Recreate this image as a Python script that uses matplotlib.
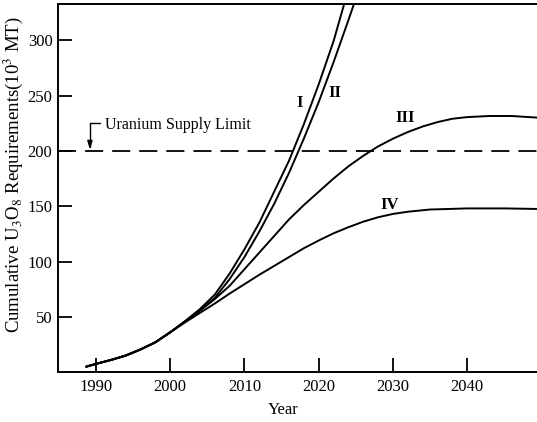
import matplotlib
matplotlib.use("Agg")
import matplotlib.pyplot as plt

plt.rcParams['font.family'] = ['Liberation Serif', 'DejaVu Serif']
plt.rcParams['mathtext.fontset'] = 'stix'

# ---- data ----
years_start = [1988.7, 1990, 1992, 1994, 1996, 1998]
vals_start = [5, 7.5, 11, 15, 20.5, 27]

years_I = years_start + [2000, 2002, 2004, 2006, 2008, 2010, 2012, 2014, 2016, 2018, 2020, 2022, 2024]
vals_I = vals_start + [36, 46, 57, 70, 89, 111, 135, 163, 191, 224, 260, 299, 346]

years_II = years_start + [2000, 2002, 2004, 2006, 2008, 2010, 2012, 2014, 2016, 2018, 2020, 2022, 2024, 2026]
vals_II = vals_start + [36, 46, 56, 67, 84, 104, 127, 152, 180, 211, 244, 280, 318, 357]

years_III = years_start + [2000, 2002, 2004, 2006, 2008, 2010, 2012, 2014, 2016, 2018, 2020, 2022, 2024,
                           2026, 2028, 2030, 2032, 2034, 2036, 2038, 2040, 2043, 2046, 2049.5]
vals_III = vals_start + [36, 45.5, 55.5, 66, 78, 93, 108, 123, 138, 151, 163, 175, 186,
                         195.5, 204, 211, 217, 222, 226, 229, 230.5, 231.5, 231.5, 230]

years_IV = years_start + [2000, 2002, 2004, 2006, 2008, 2010, 2012, 2014, 2016, 2018, 2020, 2022, 2024,
                          2026, 2028, 2030, 2032, 2035, 2040, 2045, 2049.5]
vals_IV = vals_start + [36, 45, 53.5, 62, 71, 79.5, 88, 96, 104, 112, 119, 125.5, 131,
                        136, 140, 143, 145, 147, 148, 148, 147.5]

supply_limit = 200
curve_labels = ['I', 'II', 'III', 'IV']
label_pos = [(2017.5, 243), (2022.2, 252), (2031.6, 230), (2029.5, 151)]

xticks = [1990, 2000, 2010, 2020, 2030, 2040]
yticks = [50, 100, 150, 200, 250, 300]

fig = plt.figure(figsize=(5.37, 4.22), dpi=100)
ax = fig.add_axes([0.108, 0.118, 0.892, 0.872])

for xs, ys in [(years_I, vals_I), (years_II, vals_II), (years_III, vals_III), (years_IV, vals_IV)]:
    ax.plot(xs, ys, color='black', lw=1.4, solid_capstyle='round', solid_joinstyle='round')

ax.axhline(supply_limit, color='black', lw=1.3, dashes=(10, 5))

for lab, (x, y) in zip(curve_labels, label_pos):
    ax.text(x, y, lab, fontsize=12, ha='center', va='center', fontweight='bold')

ax.text(1991.2, 223, 'Uranium Supply Limit', fontsize=11.5, ha='left', va='center')
ax.annotate('', xy=(1989.2, 201), xytext=(1990.6, 225),
            arrowprops=dict(arrowstyle='-|>,head_length=0.5,head_width=0.15',
                            connectionstyle='angle,angleA=0,angleB=90,rad=0',
                            color='black', lw=1.0, shrinkA=0, shrinkB=0))

ax.set_xlim(1984.9, 2049.4)
ax.set_ylim(0, 332.5)
ax.set_xticks(xticks)
ax.set_yticks(yticks)
ax.tick_params(direction='in', length=10, width=1.3, labelsize=12)
ax.tick_params(axis='y', pad=4)
ax.tick_params(axis='x', pad=5)

for s in ['left', 'bottom', 'top']:
    ax.spines[s].set_linewidth(1.4)
ax.spines['right'].set_visible(False)

ax.set_xlabel('Year', fontsize=12, va='center')
ax.xaxis.set_label_coords(0.47, -0.103)
ax.set_ylabel(r'Cumulative U$_3$O$_8$ Requirements(10$^3$ MT)', fontsize=13.5, va='center')
ax.yaxis.set_label_coords(-0.093, 0.538)

fig.savefig('out.png', dpi=100)
